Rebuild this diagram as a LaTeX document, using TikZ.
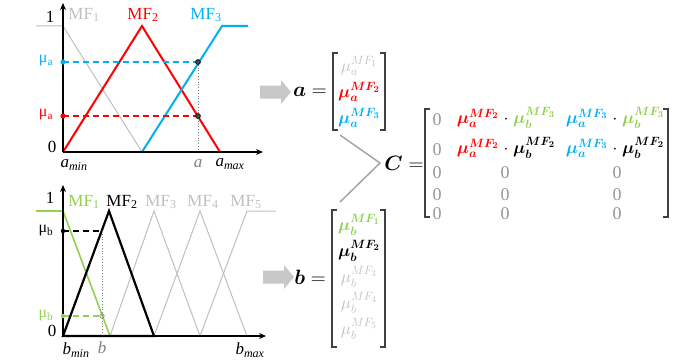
\documentclass[tikz,border=0pt]{standalone}
\usepackage{amsmath,bm}
\usepackage{fontspec}
\newfontfamily\tms{Liberation Serif}
\usetikzlibrary{arrows.meta}
\DeclareMathSizes{17}{17}{12}{9}
\DeclareMathSizes{20}{20}{15}{11.5}
\definecolor{mfgray}{RGB}{191,191,191}
\definecolor{mfred}{RGB}{255,0,0}
\definecolor{mfblue}{RGB}{0,176,240}
\definecolor{mfgreen}{RGB}{146,208,80}
\definecolor{zgray}{RGB}{150,150,150}
\definecolor{brkc}{RGB}{64,64,64}
\definecolor{arrgray}{RGB}{200,200,200}
\definecolor{lgray}{RGB}{165,165,165}
\newcommand{\MUb}[2]{\bm{\mu}_{\bm{#1}}^{\bm{MF_{#2}}}}
\newcommand{\MUn}[2]{\mu_{#1}^{MF_{#2}}}
\newcommand{\dotop}{\mskip1mu\cdot\mskip1mu}
\begin{document}
\begin{tikzpicture}[x=1pt,y=-1pt,
  lbl/.style={font=\tms\fontsize{17}{20}\selectfont, inner sep=0pt},
  mulbl/.style={font=\tms\fontsize{16}{18}\selectfont, inner sep=0pt},
  mat/.style={font=\fontsize{17}{20}\selectfont, inner sep=0pt},
  eqlbl/.style={font=\fontsize{20}{22}\selectfont, inner sep=0pt},
  zero/.style={font=\tms\fontsize{18}{20}\selectfont, inner sep=0pt, text=zgray},
  axisarrow/.style={line width=1.6pt, -{Stealth[length=7pt,width=6pt]}},
  brk/.style={draw=brkc, line width=1.4pt},
  bigarrow/.style={fill=arrgray},
  convline/.style={draw=lgray, line width=1.5pt}]
\useasboundingbox (0,0) rectangle (688,361);

% ---------- top chart ----------
\draw[mfgray, line width=1pt] (36,26) -- (63,26) -- (142,152);
\draw[mfred, line width=2pt] (63,152) -- (142,26) -- (220,152);
\draw[mfblue, line width=2pt] (142,152) -- (222,26) -- (248,26);
\draw[mfblue, line width=1.8pt, dash pattern=on 6pt off 4pt] (63,62) -- (198,62);
\draw[mfred, line width=1.8pt, dash pattern=on 6pt off 4pt] (63,116) -- (198,116);
\draw[gray, dotted, line width=0.8pt] (198,62) -- (198,152);
\draw[axisarrow] (63,152) -- (63,3);
\draw[axisarrow] (63,152) -- (263,152);
\fill[mfblue] (63,62) circle (2.6);
\fill[mfred] (63,116) circle (2.6);
\draw[black, fill=gray!60!black, line width=0.7pt] (198,62) circle (2.4);
\draw[black, fill=gray!60!black, line width=0.7pt] (198,116) circle (2.4);

\node[lbl] (one1) at (50,17) {1};
\node[lbl] (zero1) at (52,147) {0};
\node[mulbl, text=mfblue] (mua1) at (46,61) {μ\textsubscript{a}};
\node[mulbl, text=mfred] (mua2) at (46,115) {μ\textsubscript{a}};
\node[lbl, text=mfgray] (mfa1) at (84,15) {MF\textsubscript{1}};
\node[lbl, text=mfred] (mfa2) at (143,15) {MF\textsubscript{2}};
\node[lbl, text=mfblue] (mfa3) at (206,15) {MF\textsubscript{3}};
\node[lbl] (amin) at (74,165) {\itshape a\textsubscript{min}};
\node[lbl, text=gray] (aval) at (198,164) {\itshape a};
\node[lbl] (amax) at (230,164) {\itshape a\textsubscript{max}};

% ---------- bottom chart ----------
\draw[mfgray, line width=1pt] (110,336) -- (154,211) -- (200,336);
\draw[mfgray, line width=1pt] (154,336) -- (200,211) -- (247,336);
\draw[mfgray, line width=1pt] (200,336) -- (247,211) -- (276,211);
\draw[mfgreen, line width=1.6pt] (36,211) -- (63,211) -- (110,336);
\draw[black, line width=2.2pt, line join=miter] (63,336) -- (109,211) -- (154,336) -- cycle;
\draw[black, line width=1.4pt, dash pattern=on 6pt off 4pt] (63,231) -- (102,231);
\draw[mfgreen, line width=1.4pt, dash pattern=on 6pt off 4pt] (63,316) -- (102,316);
\draw[gray, dotted, line width=0.8pt] (102,231) -- (102,336);
\draw[axisarrow] (63,336) -- (63,185);
\draw[axisarrow] (63,336) -- (266,336);
\fill[black] (63,231) circle (2.2);
\fill[mfgreen] (63,316) circle (2.2);
\draw[gray, line width=0.7pt] (102,316) circle (2.2);

\node[lbl] (one2) at (50,198) {1};
\node[lbl] (zero2) at (52,331) {0};
\node[mulbl] (mub1) at (46,231) {μ\textsubscript{b}};
\node[mulbl, text=mfgreen] (mub2) at (46,316) {μ\textsubscript{b}};
\node[lbl, text=mfgreen] (mfb1) at (84,202) {MF\textsubscript{1}};
\node[lbl] (mfb2) at (122,202) {MF\textsubscript{2}};
\node[lbl, text=mfgray] (mfb3) at (161,202) {MF\textsubscript{3}};
\node[lbl, text=mfgray] (mfb4) at (203,202) {MF\textsubscript{4}};
\node[lbl, text=mfgray] (mfb5) at (246,202) {MF\textsubscript{5}};
\node[lbl] (bmin) at (76,350) {\itshape b\textsubscript{min}};
\node[lbl, text=gray] (bval) at (102,348) {\itshape b};
\node[lbl] (bmax) at (250,350) {\itshape b\textsubscript{max}};

% ---------- block arrows ----------
\fill[bigarrow] (260,85.5) -- (281,85.5) -- (281,80) -- (291,92) -- (281,104) -- (281,98.5) -- (260,98.5) -- cycle;
\fill[bigarrow] (263,270.5) -- (284,270.5) -- (284,265) -- (294,277) -- (284,289) -- (284,283.5) -- (263,283.5) -- cycle;

% ---------- vector a ----------
\node[eqlbl] (aeq) at (310,92) {$\bm{a} =$};
\draw[brk] (338,53) -- (333,53) -- (333,130) -- (338,130);
\draw[brk] (380,53) -- (385,53) -- (385,130) -- (380,130);
\node[mat, text=mfgray] (va1) at (359,66) {$\MUn{a}{1}$};
\node[mat, text=mfred] (va2) at (359,92) {$\MUb{a}{2}$};
\node[mat, text=mfblue] (va3) at (359,118) {$\MUb{a}{3}$};

% ---------- vector b ----------
\node[eqlbl] (beq) at (310,277) {$\bm{b} =$};
\draw[brk] (337,210) -- (332,210) -- (332,347) -- (337,347);
\draw[brk] (380,210) -- (385,210) -- (385,347) -- (380,347);
\node[mat, text=mfgreen] (vb1) at (359,225) {$\MUb{b}{1}$};
\node[mat] (vb2) at (359,251) {$\MUb{b}{2}$};
\node[mat, text=mfgray] (vb3) at (359,277) {$\MUn{b}{3}$};
\node[mat, text=mfgray] (vb4) at (359,303) {$\MUn{b}{4}$};
\node[mat, text=mfgray] (vb5) at (359,329) {$\MUn{b}{5}$};

% ---------- converging lines ----------
\coordinate (ca) at (340,135);
\coordinate (cb) at (340,202);
\coordinate (cc) at (380,163);
\draw[convline] (ca) -- (cc) -- (cb);

% ---------- matrix C ----------
\node[eqlbl] (ceq) at (404,163) {$\bm{C} =$};
\draw[brk] (430,109) -- (425,109) -- (425,217) -- (430,217);
\draw[brk] (663,109) -- (668,109) -- (668,217) -- (663,217);
\foreach \r/\y in {1/120,2/150,3/173,4/195,5/214} {
  \node[zero] (c\r a) at (437,\y) {0};
}
\foreach \r/\y in {3/173,4/195,5/214} {
  \node[zero] (c\r b) at (505,\y) {0};
  \node[zero] (c\r c) at (617,\y) {0};
}
\node[mat] (c1b) at (506,118) {$\textcolor{mfred}{\MUb{a}{2}}\dotop\textcolor{mfgreen}{\MUb{b}{3}}$};
\node[mat] (c1c) at (615,118) {$\textcolor{mfblue}{\MUb{a}{3}}\dotop\textcolor{mfgreen}{\MUb{b}{3}}$};
\node[mat] (c2b) at (506,148) {$\textcolor{mfred}{\MUb{a}{2}}\dotop\MUb{b}{2}$};
\node[mat] (c2c) at (615,148) {$\textcolor{mfblue}{\MUb{a}{3}}\dotop\MUb{b}{2}$};
\end{tikzpicture}
\end{document}
